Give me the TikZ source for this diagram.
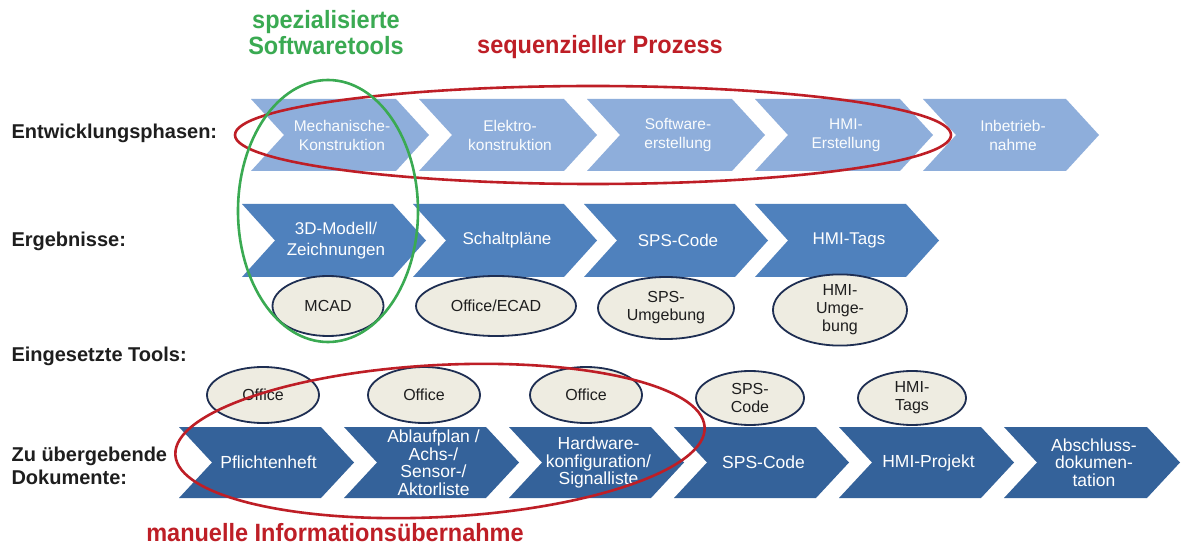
\documentclass[tikz,border=0pt]{standalone}
\usepackage{fontspec}
\setmainfont{Liberation Sans}
\newfontfamily\narrowfont[FakeStretch=0.94]{Liberation Sans}
\usetikzlibrary{shapes.geometric}

\definecolor{phaseblue}{RGB}{142,174,219}
\definecolor{resultblue}{RGB}{79,129,189}
\definecolor{docblue}{RGB}{52,98,154}
\definecolor{toolfill}{RGB}{238,236,225}
\definecolor{tooldraw}{RGB}{30,46,82}
\definecolor{ringred}{RGB}{190,30,38}
\definecolor{ringgreen}{RGB}{58,170,82}
\definecolor{labelgray}{RGB}{30,30,30}

\tikzset{
  phase/.style={fill=phaseblue},
  phasetext/.style={text=white!96!phaseblue, align=center, font=\fontsize{15.5}{19}\selectfont},
  result/.style={fill=resultblue},
  resulttext/.style={text=white, align=center, font=\fontsize{17}{21}\selectfont},
  doc/.style={fill=docblue},
  doctext/.style={text=white, align=center, font=\fontsize{17.5}{17.5}\selectfont},
  tool/.style={ellipse, draw=tooldraw, line width=1.8pt, fill=toolfill, inner sep=0pt,
    align=center, text=labelgray, font=\fontsize{16}{18}\selectfont},
  rowlabel/.style={anchor=west, align=left, text=labelgray, font=\fontsize{20}{23}\selectfont\bfseries},
  ring/.style={ellipse, draw, line width=2.6pt, inner sep=0pt},
  heading/.style={align=center, font=\fontsize{25}{26}\selectfont\narrowfont\bfseries}
}

% chevron: #1 name, #2 left x, #3 top y, #4 width up to the tip, #5 height, #6 style, #7 text
\newcommand{\chevdepth}{33}
\newcommand{\chevron}[7]{%
  \fill[#6] (#2,#3) -- ++(#4-\chevdepth,0) -- ++(\chevdepth,#5/2) -- ++(-\chevdepth,#5/2)
    -- ++(-#4+\chevdepth,0) -- ++(\chevdepth,-#5/2) -- cycle;
  \node[#6text] (#1) at (#2+#4/2+2,#3+#5/2) {#7};
}

\begin{document}
\begin{tikzpicture}[x=1pt,y=-1pt]
\useasboundingbox (0,0) rectangle (1181,545);
\fill[white] (0,0) rectangle (1181,545);

% row labels
\node[rowlabel] (lphase) at (8,133) {Entwicklungsphasen:};
\node[rowlabel] (lresult) at (8,241) {Ergebnisse:};
\node[rowlabel] (ltools) at (8,356) {Eingesetzte Tools:};
\node[rowlabel] (ldocs) at (8,466) {Zu übergebende\\Dokumente:};

% development phases
\chevron{p1}{251}{99}{178}{72}{phase}{Mechanische-\\Konstruktion}
\chevron{p2}{419}{99}{178}{72}{phase}{Elektro-\\konstruktion}
\chevron{p3}{587}{99}{178}{72}{phase}{Software-\\erstellung}
\chevron{p4}{755}{99}{178}{72}{phase}{HMI-\\Erstellung}
\chevron{p5}{923}{99}{176}{72}{phase}{Inbetrieb-\\nahme}

% results
\chevron{r1}{242}{204}{184}{73}{result}{3D-Modell/\\Zeichnungen}
\chevron{r2}{413}{204}{184}{73}{result}{Schaltpläne}
\chevron{r3}{584}{204}{184}{73}{result}{SPS-Code}
\chevron{r4}{755}{204}{184}{73}{result}{HMI-Tags}

% tools behind the results
\node[tool, minimum width=111pt, minimum height=60pt] (t1) at (328,306) {MCAD};
\node[tool, minimum width=160pt, minimum height=60pt] (t2) at (496,306) {Office/ECAD};
\node[tool, minimum width=136pt, minimum height=62pt] (t3) at (666,308) {SPS-\\Umgebung};
\node[tool, minimum width=134pt, minimum height=68pt] (t4) at (840,310) {HMI-\\Umge-\\bung};

% documents to hand over
\chevron{d1}{179}{427}{175}{71}{doc}{Pflichtenheft}
\chevron{d2}{344}{427}{175}{71}{doc}{Ablaufplan /\\Achs-/\\Sensor-/\\Aktorliste}
\chevron{d3}{509}{427}{175}{71}{doc}{Hardware-\\konfiguration/\\Signalliste}
\chevron{d4}{674}{427}{175}{71}{doc}{SPS-Code}
\chevron{d5}{839}{427}{175}{71}{doc}{HMI-Projekt}
\chevron{d6}{1004}{427}{176}{71}{doc}{Abschluss-\\dokumen-\\tation}

% tools behind the documents
\node[tool, minimum width=112pt, minimum height=56pt] (u1) at (263,395) {Office};
\node[tool, minimum width=112pt, minimum height=56pt] (u2) at (424,395) {Office};
\node[tool, minimum width=112pt, minimum height=56pt] (u3) at (586,395) {Office};
\node[tool, minimum width=108pt, minimum height=54pt] (u4) at (750,398) {SPS-\\Code};
\node[tool, minimum width=108pt, minimum height=54pt] (u5) at (912,398) {HMI-\\Tags};

% highlighting rings
\node[ring, draw=ringred, minimum width=716pt, minimum height=98pt] (seqring) at (593,135) {};
\node[ring, draw=ringred, minimum width=530pt, minimum height=152pt, rotate=3] (manring) at (440,441) {};
\node[ring, draw=ringgreen, minimum width=180pt, minimum height=262pt] (toolring) at (328,211) {};

% headings
\node[heading, text=ringgreen] (hgreen) at (326,33) {spezialisierte\\Softwaretools};
\node[heading, text=ringred] (hseq) at (600,47) {sequenzieller Prozess};
\node[heading, text=ringred] (hman) at (335,533) {manuelle Informationsübernahme};
\end{tikzpicture}
\end{document}
